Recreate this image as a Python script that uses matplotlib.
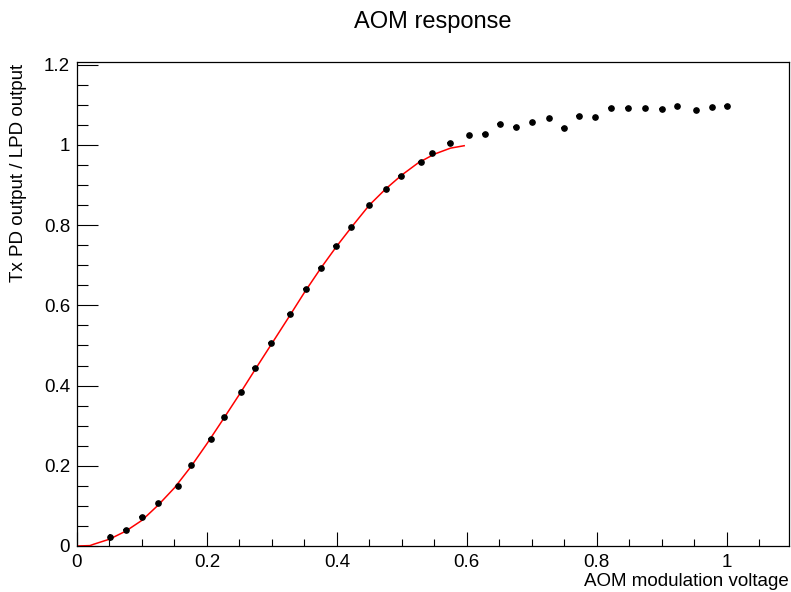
import matplotlib
matplotlib.use("Agg")
import matplotlib.pyplot as plt
from matplotlib.ticker import MultipleLocator, FuncFormatter

plt.rcParams['font.family'] = ['Liberation Sans', 'DejaVu Sans']

# Measured data (AOM modulation voltage vs Tx PD / LPD ratio)
x_data = [0.051, 0.075, 0.100, 0.125, 0.156, 0.176, 0.206, 0.227, 0.253,
          0.274, 0.298, 0.328, 0.352, 0.375, 0.398, 0.422, 0.450, 0.476,
          0.498, 0.529, 0.547, 0.574, 0.604, 0.628, 0.651, 0.675, 0.701,
          0.727, 0.749, 0.772, 0.798, 0.822, 0.848, 0.875, 0.900, 0.924,
          0.953, 0.978, 1.000]
y_data = [0.022, 0.040, 0.072, 0.107, 0.150, 0.202, 0.268, 0.321, 0.383,
          0.443, 0.505, 0.579, 0.642, 0.692, 0.747, 0.796, 0.849, 0.890,
          0.922, 0.958, 0.979, 1.005, 1.025, 1.028, 1.051, 1.044, 1.057,
          1.066, 1.043, 1.073, 1.069, 1.092, 1.092, 1.092, 1.090, 1.098,
          1.086, 1.095, 1.098]
y_err = [0.009, 0.004, 0.003, 0.003, 0.003, 0.003, 0.003, 0.003, 0.003,
         0.003, 0.003, 0.003, 0.003, 0.003, 0.003, 0.003, 0.003, 0.003,
         0.003, 0.003, 0.003, 0.003, 0.003, 0.003, 0.003, 0.003, 0.003,
         0.003, 0.004, 0.003, 0.003, 0.003, 0.003, 0.003, 0.003, 0.003,
         0.003, 0.003, 0.003]
x_err = 0.004

# Fit curve
x_fit = [0.0, 0.02, 0.025, 0.05, 0.075, 0.1, 0.125, 0.15, 0.175, 0.2, 0.225,
         0.25, 0.275, 0.3, 0.325, 0.35, 0.375, 0.4, 0.425, 0.45, 0.475,
         0.5, 0.525, 0.55, 0.575, 0.596]
y_fit = [0.0, 0.001, 0.004, 0.017, 0.037, 0.064, 0.102, 0.145, 0.197, 0.255,
         0.316, 0.378, 0.442, 0.505, 0.568, 0.632, 0.692, 0.748, 0.800,
         0.850, 0.890, 0.925, 0.955, 0.977, 0.992, 0.998]

title = "AOM response"
xlabel = "AOM modulation voltage"
ylabel = "Tx PD output / LPD output"

W, H = 791, 592
fig = plt.figure(figsize=(W / 100, H / 100), dpi=100)
L, R, B, T = 77, 789, 546, 61.7
ax = fig.add_axes([L / W, 1 - B / H, (R - L) / W, (B - T) / H])

ax.plot(x_fit, y_fit, color='#ff0000', lw=1.1, zorder=2)
ax.errorbar(x_data, y_data, yerr=y_err, xerr=x_err, fmt='o', color='black',
            ms=3.8, elinewidth=1.1, capsize=0, zorder=3)

ax.set_xlim(0, 1.096)
ax.set_ylim(0, 1.2075)

ax.xaxis.set_major_locator(MultipleLocator(0.2))
ax.xaxis.set_minor_locator(MultipleLocator(0.05))
ax.yaxis.set_major_locator(MultipleLocator(0.2))
ax.yaxis.set_minor_locator(MultipleLocator(0.05))

fmt = FuncFormatter(lambda v, p: ('%g' % round(v, 3)))
ax.xaxis.set_major_formatter(fmt)
ax.yaxis.set_major_formatter(fmt)

ax.tick_params(axis='x', which='major', direction='in', length=14.5 * 0.72,
               width=0.8, labelsize=13.5, pad=6, top=False)
ax.tick_params(axis='x', which='minor', direction='in', length=7.3 * 0.72,
               width=0.8, top=False)
ax.tick_params(axis='y', which='major', direction='in', length=21 * 0.72,
               width=0.8, labelsize=13.5, pad=5, right=False)
ax.tick_params(axis='y', which='minor', direction='in', length=10.5 * 0.72,
               width=0.8, right=False)

for s in ax.spines.values():
    s.set_linewidth(0.9)
    s.set_color('black')

fig.text((L + R) / 2 / W, 1 - 22 / H, title, ha='center', va='center',
         fontsize=17)
fig.text(R / W, 1 - 581 / H, xlabel, ha='right', va='center', fontsize=13.5)
fig.text(19 / W, 1 - 64 / H, ylabel, ha='center', va='top', rotation=90,
         fontsize=13.5)

fig.savefig('out.png', dpi=100)
